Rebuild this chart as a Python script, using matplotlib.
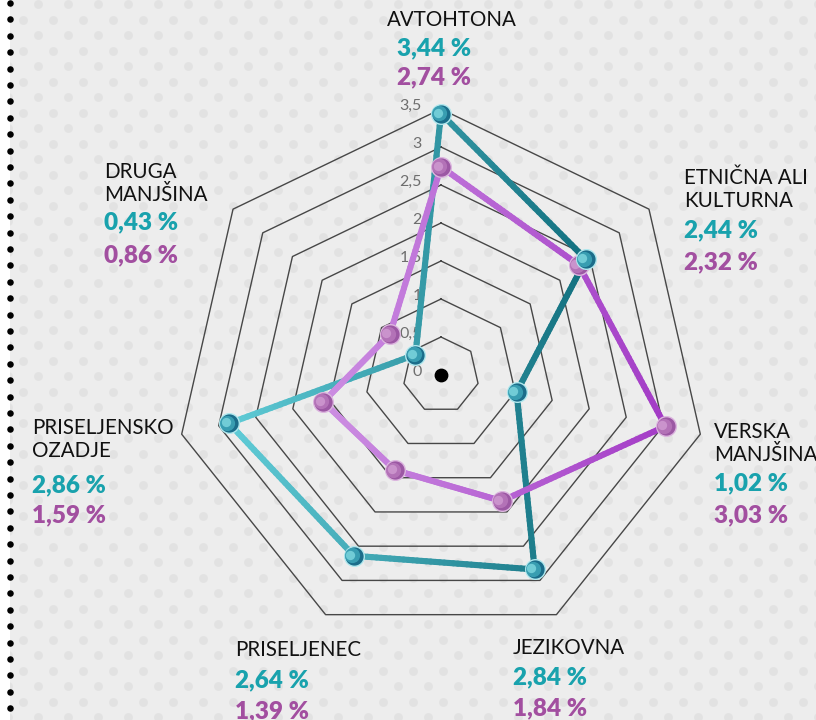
import numpy as np
import matplotlib
matplotlib.use('Agg')
import matplotlib.pyplot as plt
from matplotlib.collections import LineCollection
from matplotlib.colors import LinearSegmentedColormap
from matplotlib.transforms import offset_copy

# data
categories = ['AVTOHTONA', 'ETNIČNA ALI\nKULTURNA', 'VERSKA\nMANJŠINA', 'JEZIKOVNA',
              'PRISELJENEC', 'PRISELJENSKO\nOZADJE', 'DRUGA\nMANJŠINA']
teal_vals = [3.44, 2.44, 1.02, 2.84, 2.64, 2.86, 0.43]
purple_vals = [2.74, 2.32, 3.03, 1.84, 1.39, 1.59, 0.86]
ring_levels = [0.5, 1.0, 1.5, 2.0, 2.5, 3.0, 3.5]
tick_levels = [0, 0.5, 1.0, 1.5, 2.0, 2.5, 3.0, 3.5]

# label layout in pixels: (x of label, y of first line, x of numbers, y teal, y purple)
label_layout = [
    (387, 20, 397, 48, 77),
    (684, 178, 684, 230, 262),
    (714, 432, 714, 483, 515),
    (513, 648, 513, 677, 708),
    (235, 650, 235, 680, 711),
    (32, 428, 32, 485, 515),
    (104, 172, 104, 222, 255),
]

W, H = 816, 720
TEAL_TXT = '#19a2ad'
PURPLE_TXT = '#a24fa0'
FONT = ['Lato', 'DejaVu Sans']

fig = plt.figure(figsize=(W / 100, H / 100), dpi=100, facecolor='#ededed')

# background texture
bg = fig.add_axes([0, 0, 1, 1])
bg.set_xlim(0, W)
bg.set_ylim(H, 0)
bg.axis('off')
gx, gy = np.meshgrid(np.arange(0, W + 30, 30.0), np.arange(0, H + 16, 15.5))
gx = gx + (np.arange(gx.shape[0])[:, None] % 2) * 15
bg.scatter(gx.ravel() + 8, gy.ravel() + 4, s=40, c='#e2e2e2', lw=0)
bg.add_patch(plt.Rectangle((0, 0), 10, H, color='white', lw=0))
bg.scatter(np.full(44, 10), 3 + np.arange(44) * 16.4, s=22, c='black', lw=0)

# radar axes
ax = fig.add_axes([175 / W, 79 / H, 532 / W, 532 / H], projection='polar')
ax.set_facecolor('none')
ax.set_theta_offset(np.pi / 2)
ax.set_theta_direction(-1)
ax.set_ylim(0, 3.5)
ax.axis('off')

n = len(categories)
angles = np.arange(n) * 2 * np.pi / n
closed = np.append(angles, angles[0])

for lev in ring_levels:
    ax.plot(closed, [lev] * (n + 1), color='#474747', lw=1.0, zorder=1, clip_on=False)

for lev in tick_levels:
    txt = ('%g' % lev).replace('.', ',')
    ax.annotate(txt, xy=(0, lev), xytext=(-19, 3), textcoords='offset pixels',
                ha='right', va='center', fontsize=11.5, color='#6e6e6e',
                family=FONT, zorder=2)


def grad_line(vals, c_left, c_right, z):
    vals = np.array(vals)
    x = vals * np.sin(angles)
    y = vals * np.cos(angles)
    px, py = [], []
    for i in range(n):
        j = (i + 1) % n
        t = np.linspace(0, 1, 40, endpoint=False)
        px.append(x[i] + (x[j] - x[i]) * t)
        py.append(y[i] + (y[j] - y[i]) * t)
    px = np.append(np.concatenate(px), x[0])
    py = np.append(np.concatenate(py), y[0])
    th = np.arctan2(px, py)
    rr = np.hypot(px, py)
    pts = np.column_stack([th, rr])
    segs = np.stack([pts[:-1], pts[1:]], axis=1)
    mid = (px[:-1] + px[1:]) / 2
    cmap = LinearSegmentedColormap.from_list('g', [c_left, c_right])
    cols = cmap((mid - x.min()) / (x.max() - x.min()))
    lc = LineCollection(segs, colors=cols, linewidths=4.4, capstyle='round',
                        joinstyle='round', zorder=z)
    lc.set_clip_on(False)
    ax.add_collection(lc)


def balls(vals, dark, mid, light, edge, z):
    ax.scatter(angles, vals, s=200, c=dark, edgecolors=edge, linewidths=1.0,
               zorder=z, clip_on=False)
    t1 = offset_copy(ax.transData, fig=fig, x=-1.8, y=0.5, units='dots')
    ax.scatter(angles, vals, s=120, c=mid, lw=0, alpha=0.85, transform=t1,
               zorder=z + 0.1, clip_on=False)
    t2 = offset_copy(ax.transData, fig=fig, x=-3.5, y=1.0, units='dots')
    ax.scatter(angles, vals, s=45, c=light, lw=0, alpha=0.8, transform=t2,
               zorder=z + 0.2, clip_on=False)


grad_line(teal_vals, '#60ccd7', '#12707f', 3)
grad_line(purple_vals, '#cc8ee2', '#a33bc6', 4)
balls(purple_vals, '#9c58a4', '#b877bb', '#d09cd2', '#dcb6df', 5)
balls(teal_vals, '#1b6d8a', '#3ea6b9', '#80d8e0', '#b0e8ee', 6)

ax.scatter([0], [0], s=80, c='black', zorder=7)

# category labels and values
for cat, tv, pv, (lx, ly, nx, ny1, ny2) in zip(categories, teal_vals, purple_vals, label_layout):
    for k, line in enumerate(cat.split('\n')):
        bg.text(lx, ly + k * 23, line, ha='left', va='center', fontsize=14.8,
                color='#111111', family=FONT)
    bg.text(nx, ny1, ('%.2f' % tv).replace('.', ',') + ' %', ha='left', va='center',
            fontsize=17.5, fontweight='heavy', color=TEAL_TXT, family=FONT)
    bg.text(nx, ny2, ('%.2f' % pv).replace('.', ',') + ' %', ha='left', va='center',
            fontsize=17.5, fontweight='heavy', color=PURPLE_TXT, family=FONT)

fig.savefig('out.png', dpi=100, facecolor=fig.get_facecolor())
